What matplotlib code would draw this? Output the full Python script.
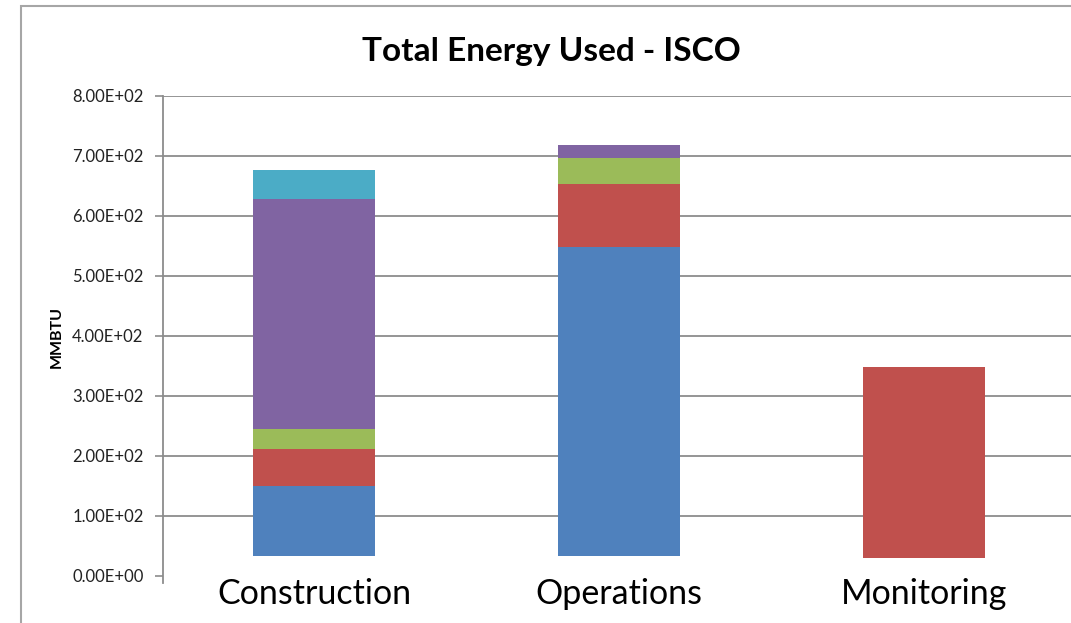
import numpy as np
import matplotlib
matplotlib.use('Agg')
from matplotlib import pyplot as plt
from matplotlib.patches import Rectangle

# categories and stacked segments (MMBTU)
phases = ['Construction', 'Operations', 'Monitoring']
bar_base = [34, 34, 30]          # bars sit a little above zero in the original
seg_blue = [116, 515, 0]
seg_red = [61, 104, 318]
seg_green = [33.5, 44, 0]
seg_purple = [384.5, 21, 0]
seg_cyan = [48, 0, 0]

yticks = [0, 100, 200, 300, 400, 500, 600, 700, 800]

colors = ['#4F81BD', '#C0504D', '#9BBB59', '#8064A2', '#4BACC6']
segments = [seg_blue, seg_red, seg_green, seg_purple, seg_cyan]

plt.rcParams['font.family'] = ['Lato', 'DejaVu Sans']

fig = plt.figure(figsize=(10.71, 6.23), dpi=100)
ax = fig.add_axes([163 / 1071, (623 - 583.2) / 623, 1 - 163 / 1071, (583.2 - 96) / 623])

x = np.arange(len(phases))
bottom = np.array(bar_base, dtype=float)
for seg, col in zip(segments, colors):
    seg = np.array(seg, dtype=float)
    ax.bar(x, seg, 0.4, bottom=bottom, color=col, zorder=3)
    bottom = bottom + seg

ax.set_xlim(-0.495, 2.482)
ax.set_ylim(-12, 800)
ax.set_yticks(yticks)
ax.set_yticklabels(['%.2fE+%02d' % (v / 100, 2) if v else '0.00E+00' for v in yticks],
                   fontsize=12, color='#222222')
ax.set_xticks(x)
ax.set_xticklabels(phases, fontsize=24.5)
ax.tick_params(axis='x', length=0, pad=-4)
ax.tick_params(axis='y', length=6, width=1.2, color='#8c8c8c', pad=8)

# grid lines (none at zero in the original)
for v in yticks[1:]:
    ax.axhline(v, color='#8c8c8c', lw=1.3, zorder=1)

for s in ['top', 'right', 'bottom']:
    ax.spines[s].set_visible(False)
ax.spines['left'].set_color('#8c8c8c')
ax.spines['left'].set_linewidth(1.3)

fig.text(57 / 1071, 1 - 337 / 623, 'MMBTU', rotation=90, fontsize=11.5,
         fontweight='bold', ha='center', va='center')
fig.text(551 / 1071, 1 - 52 / 623, 'Total Energy Used - ISCO', fontsize=24,
         fontweight='bold', ha='center', va='center')

# outer chart border
fig.patches.append(Rectangle((21 / 1071, -0.05), 1.1, 0.05 + (623 - 6) / 623,
                             transform=fig.transFigure, fill=False,
                             edgecolor='#a6a6a6', lw=1.5))

fig.savefig('out.png', dpi=100)
